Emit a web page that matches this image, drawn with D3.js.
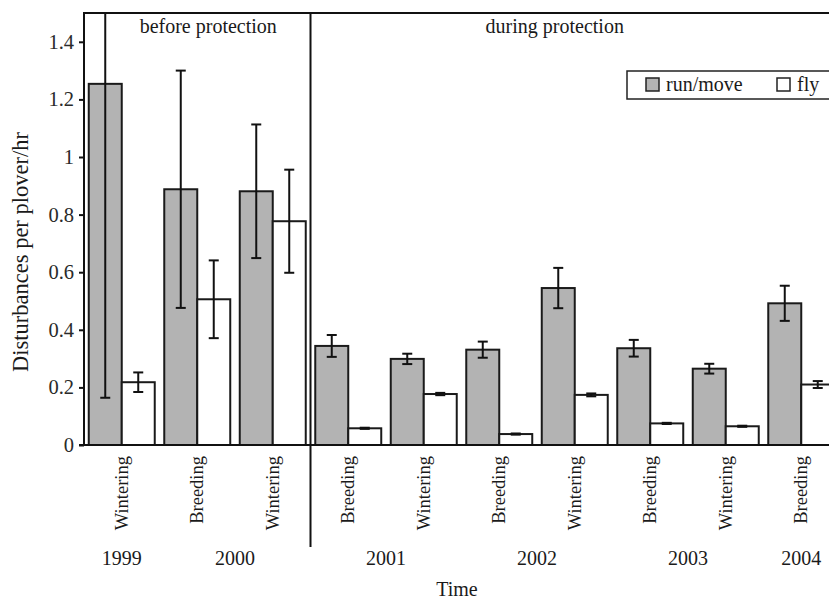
<!DOCTYPE html>
<html>
<head>
<meta charset="utf-8">
<script src="https://cdnjs.cloudflare.com/ajax/libs/d3/7.8.5/d3.min.js"></script>
<style>
  html, body { margin: 0; padding: 0; background: #fff; }
  svg text { font-family: "Liberation Serif", "Times New Roman", serif; fill: #1a1a1a; }
</style>
</head>
<body>
<div id="chart"></div>
<script>
// season of each bar pair, and the year it belongs to
var seasons = ["Wintering", "Breeding", "Wintering", "Breeding", "Wintering",
               "Breeding", "Wintering", "Breeding", "Wintering", "Breeding"];
var years = ["1999", "2000", "2000", "2001", "2001", "2002", "2002", "2003", "2003", "2004"];

// disturbances per plover per hour (mean, +/- error)
var runMove    = [1.254, 0.888, 0.881, 0.344, 0.299, 0.331, 0.545, 0.336, 0.265, 0.492];
var runMoveErr = [1.090, 0.412, 0.232, 0.038, 0.018, 0.028, 0.070, 0.029, 0.017, 0.061];
var fly        = [0.218, 0.506, 0.777, 0.058, 0.177, 0.038, 0.174, 0.075, 0.065, 0.210];
var flyErr     = [0.034, 0.135, 0.179, 0.002, 0.004, 0.002, 0.005, 0.002, 0.002, 0.012];

var yTicks = [0, 0.2, 0.4, 0.6, 0.8, 1, 1.2, 1.4];
var seriesNames = ["run/move", "fly"];
var periodLabels = ["before protection", "during protection"];
var protectionStart = 3; // first index during protection

var W = 829, H = 599;
var plotLeft = 84, plotTop = 13, plotBottom = 445;

var svg = d3.select("#chart").append("svg")
  .attr("width", W).attr("height", H);

var idx = d3.range(seasons.length);

var x = d3.scaleBand()
  .domain(idx)
  .range([plotLeft, 839])
  .paddingInner(0.126)
  .paddingOuter(0.063);

var xs = d3.scaleBand()
  .domain(seriesNames)
  .range([0, x.bandwidth()]);

var y = d3.scaleLinear()
  .domain([0, 1.5])
  .range([plotBottom, plotTop]);

var colors = { "run/move": "#b3b3b3", "fly": "#ffffff" };

svg.append("clipPath").attr("id", "plotclip")
  .append("rect")
  .attr("x", plotLeft).attr("y", plotTop)
  .attr("width", W - plotLeft).attr("height", plotBottom - plotTop);

var plot = svg.append("g").attr("clip-path", "url(#plotclip)");

// bars
var rows = [];
idx.forEach(function(i) {
  rows.push({ i: i, s: "run/move", v: runMove[i], e: runMoveErr[i] });
  rows.push({ i: i, s: "fly", v: fly[i], e: flyErr[i] });
});

plot.selectAll("rect.bar")
  .data(rows)
  .enter().append("rect")
  .attr("class", "bar")
  .attr("x", function(d) { return x(d.i) + xs(d.s); })
  .attr("y", function(d) { return y(d.v); })
  .attr("width", xs.bandwidth())
  .attr("height", function(d) { return y(0) - y(d.v); })
  .style("fill", function(d) { return colors[d.s]; })
  .style("stroke", "#1a1a1a")
  .style("stroke-width", 2);

// error bars
var eb = plot.selectAll("g.err")
  .data(rows)
  .enter().append("g")
  .attr("class", "err")
  .attr("transform", function(d) {
    return "translate(" + (x(d.i) + xs(d.s) + xs.bandwidth() / 2) + ",0)";
  })
  .style("stroke", "#111")
  .style("stroke-width", 2);

eb.append("line")
  .attr("x1", 0).attr("x2", 0)
  .attr("y1", function(d) { return y(d.v + d.e); })
  .attr("y2", function(d) { return y(d.v - d.e); });
eb.append("line")
  .attr("x1", -5).attr("x2", 5)
  .attr("y1", function(d) { return y(d.v + d.e); })
  .attr("y2", function(d) { return y(d.v + d.e); });
eb.append("line")
  .attr("x1", -5).attr("x2", 5)
  .attr("y1", function(d) { return y(d.v - d.e); })
  .attr("y2", function(d) { return y(d.v - d.e); });

// y axis
var yAxis = svg.append("g")
  .attr("transform", "translate(" + plotLeft + ",0)")
  .call(d3.axisLeft(y).tickValues(yTicks).tickSize(5).tickPadding(5)
    .tickSizeOuter(0).tickFormat(d3.format("~g")));
yAxis.select(".domain").remove();
yAxis.selectAll("line").style("stroke", "#111").style("stroke-width", 2);
yAxis.selectAll("text")
  .style("font-family", "Liberation Serif")
  .style("font-size", "20.5px")
  .style("fill", "#2a2a2a");

// frame lines
svg.append("line")
  .attr("x1", plotLeft).attr("x2", plotLeft).attr("y1", plotTop - 1).attr("y2", plotBottom)
  .style("stroke", "#111").style("stroke-width", 2);
svg.append("line")
  .attr("x1", plotLeft).attr("x2", W).attr("y1", plotTop).attr("y2", plotTop)
  .style("stroke", "#111").style("stroke-width", 2);
svg.append("line")
  .attr("x1", plotLeft - 5).attr("x2", W).attr("y1", plotBottom).attr("y2", plotBottom)
  .style("stroke", "#111").style("stroke-width", 2);

// divider between before / during protection
var gap = x.step() - x.bandwidth();
var divX = x(protectionStart) - gap / 2;
svg.append("line")
  .attr("x1", divX).attr("x2", divX).attr("y1", plotTop).attr("y2", 547)
  .style("stroke", "#111").style("stroke-width", 2);

svg.append("text")
  .attr("x", x(1) + x.bandwidth() / 2 + 11)
  .attr("y", 33)
  .attr("text-anchor", "middle")
  .style("font-size", "20px")
  .text(periodLabels[0]);
svg.append("text")
  .attr("x", x(6) + x.bandwidth() / 2 - 20)
  .attr("y", 33)
  .attr("text-anchor", "middle")
  .style("font-size", "20px")
  .text(periodLabels[1]);

// season labels (rotated)
svg.selectAll("text.season")
  .data(idx)
  .enter().append("text")
  .attr("class", "season")
  .attr("transform", function(i) {
    return "translate(" + (x(i) + x.bandwidth() / 2 + 6) + ",456) rotate(-90)";
  })
  .attr("text-anchor", "end")
  .style("font-size", "18.5px")
  .text(function(i) { return seasons[i]; });

// year labels, centred under their seasons
var yearGroups = d3.groups(idx, function(i) { return years[i]; });
svg.selectAll("text.year")
  .data(yearGroups)
  .enter().append("text")
  .attr("class", "year")
  .attr("x", function(g) {
    return d3.mean(g[1], function(i) { return x(i) + x.bandwidth() / 2; });
  })
  .attr("y", 565)
  .attr("text-anchor", "middle")
  .style("font-size", "20px")
  .text(function(g) { return g[0]; });

// axis titles
svg.append("text")
  .attr("x", 457).attr("y", 596)
  .attr("text-anchor", "middle")
  .style("font-size", "20px")
  .text("Time");

svg.append("text")
  .attr("transform", "translate(28,252) rotate(-90)")
  .attr("text-anchor", "middle")
  .style("font-size", "22.5px")
  .text("Disturbances per plover/hr");

// legend
var lg = svg.append("g").attr("transform", "translate(627,71)");
lg.append("rect")
  .attr("x", 0).attr("y", 0).attr("width", 230).attr("height", 28)
  .style("fill", "#fff").style("stroke", "#222").style("stroke-width", 1.5);
var legendX = [19, 150];
seriesNames.forEach(function(s, k) {
  lg.append("rect")
    .attr("x", legendX[k]).attr("y", 7).attr("width", 13).attr("height", 13)
    .style("fill", colors[s]).style("stroke", "#222").style("stroke-width", 1.5);
  lg.append("text")
    .attr("x", legendX[k] + 20).attr("y", 20)
    .style("font-size", "20px")
    .text(s);
});
</script>
</body>
</html>
